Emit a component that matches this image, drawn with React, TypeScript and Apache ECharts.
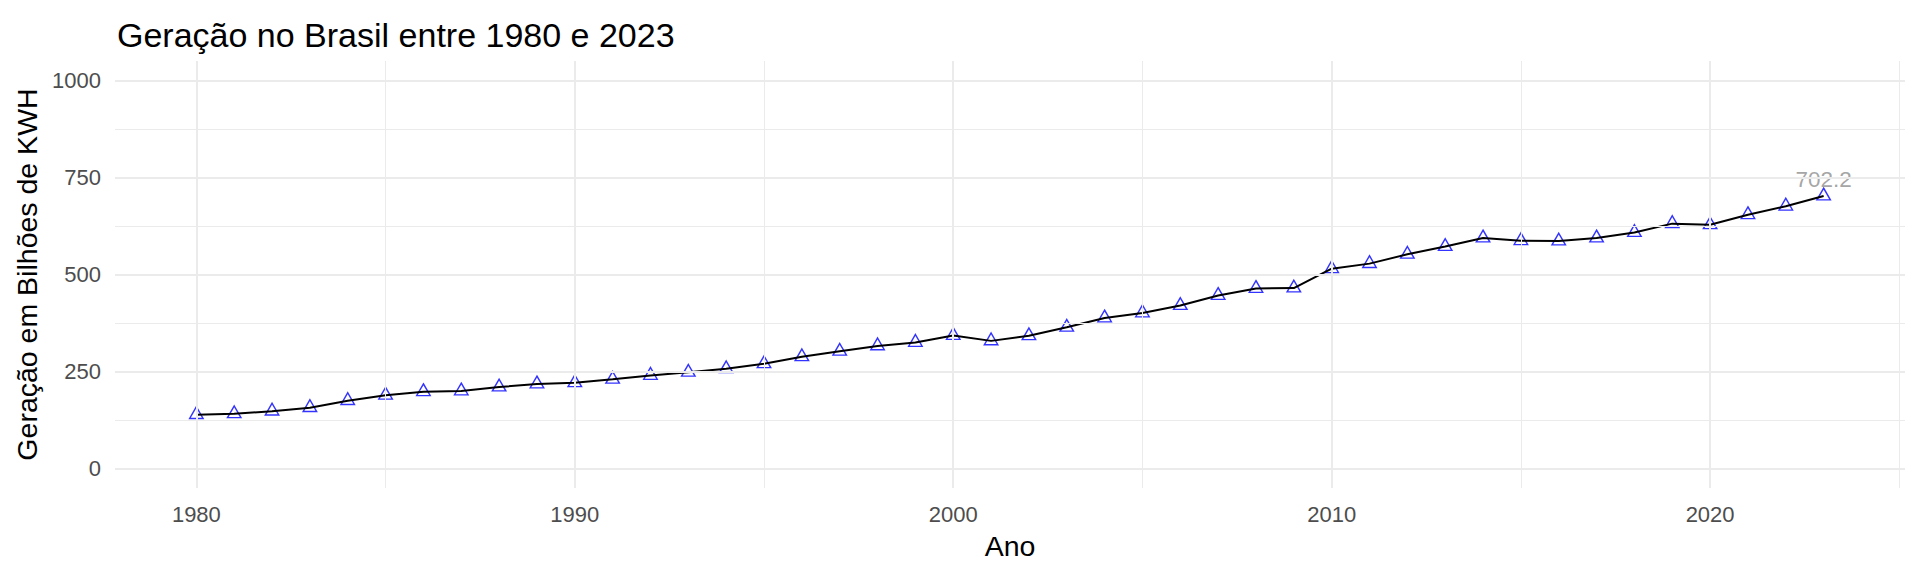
import React, { useEffect, useRef } from "react";
import * as echarts from "echarts";

const years: number[] = [
  1980, 1981, 1982, 1983, 1984, 1985, 1986, 1987, 1988, 1989,
  1990, 1991, 1992, 1993, 1994, 1995, 1996, 1997, 1998, 1999,
  2000, 2001, 2002, 2003, 2004, 2005, 2006, 2007, 2008, 2009,
  2010, 2011, 2012, 2013, 2014, 2015, 2016, 2017, 2018, 2019,
  2020, 2021, 2022, 2023,
];
const generation: number[] = [
  139, 141, 148, 157, 175, 189, 198, 200, 210, 218,
  221, 230, 240, 248, 257, 270, 288, 302, 316, 325,
  343, 329, 342, 364, 388, 401, 420, 446, 464, 465,
  515, 528, 552, 572, 594, 587, 586, 594, 608, 631,
  628, 654, 676, 702.2,
];
const xMajorTicks: number[] = [1980, 1990, 2000, 2010, 2020];
const xMinorTicks: number[] = [1985, 1995, 2005, 2015, 2025];
const yMajorTicks: number[] = [0, 250, 500, 750, 1000];
const yMinorTicks: number[] = [125, 375, 625, 875];

const titleText = "Geração no Brasil entre 1980 e 2023";
const xName = "Ano";
const yName = "Geração em Bilhões de KWH";

const FONT = "'Liberation Sans', Arial, sans-serif";

export default function App() {
  const ref = useRef<HTMLDivElement>(null);
  useEffect(() => {
    if (!ref.current) return;
    const chart = echarts.init(ref.current, null, { renderer: "svg" });
    const pts = years.map((y, i) => [y, generation[i]]);
    const last = pts.length - 1;
    const gridMarks: any[] = [];
    xMajorTicks.forEach((v) =>
      gridMarks.push({ xAxis: v, lineStyle: { color: "#EBEBEB", width: 2, type: "solid" } })
    );
    xMinorTicks.forEach((v) =>
      gridMarks.push({ xAxis: v, lineStyle: { color: "#EBEBEB", width: 1, type: "solid" } })
    );
    yMajorTicks.forEach((v) =>
      gridMarks.push({ yAxis: v, lineStyle: { color: "#EBEBEB", width: 2, type: "solid" } })
    );
    yMinorTicks.forEach((v) =>
      gridMarks.push({ yAxis: v, lineStyle: { color: "#EBEBEB", width: 1, type: "solid" } })
    );

    chart.setOption({
      animation: false,
      backgroundColor: "#FFFFFF",
      textStyle: { fontFamily: FONT },
      title: {
        text: titleText,
        left: 112,
        top: 13,
        textStyle: { fontFamily: FONT, fontSize: 34, fontWeight: "normal", color: "#000000" },
      },
      grid: { left: 115, right: 15, top: 61, bottom: 88, containLabel: false },
      xAxis: {
        type: "value",
        min: 1977.85,
        max: 2025.15,
        name: xName,
        nameLocation: "middle",
        nameGap: 43,
        nameTextStyle: { fontFamily: FONT, fontSize: 28.5, color: "#000000" },
        axisLine: { show: false },
        axisTick: { show: false },
        splitLine: { show: false },
        axisLabel: {
          customValues: xMajorTicks,
          fontFamily: FONT,
          fontSize: 22,
          color: "#4D4D4D",
          margin: 15,
          formatter: (v: number) => String(v),
        },
      },
      yAxis: {
        type: "value",
        min: -50,
        max: 1050,
        name: yName,
        nameLocation: "middle",
        nameGap: 73,
        nameTextStyle: { fontFamily: FONT, fontSize: 28.5, color: "#000000" },
        axisLine: { show: false },
        axisTick: { show: false },
        splitLine: { show: false },
        axisLabel: {
          customValues: yMajorTicks,
          fontFamily: FONT,
          fontSize: 22,
          color: "#4D4D4D",
          margin: 14,
          formatter: (v: number) => String(v),
        },
      },
      series: [
        {
          type: "line",
          data: [],
          z: 0,
          silent: true,
          markLine: {
            silent: true,
            symbol: ["none", "none"],
            label: { show: false },
            emphasis: { disabled: true },
            data: gridMarks,
          },
        },
        {
          type: "scatter",
          z: 2,
          symbol: "triangle",
          symbolSize: [13.5, 11.7],
          symbolOffset: [0, -2],
          itemStyle: { color: "rgba(0,0,0,0)", borderColor: "#0000FF", borderWidth: 1.4 },
          data: pts.map((p, i) =>
            i === last
              ? {
                  value: p,
                  label: {
                    show: true,
                    position: "top",
                    distance: 0,
                    offset: [0, 3],
                    formatter: (q: any) => String(q.value[1]),
                    fontFamily: FONT,
                    fontSize: 22.5,
                    color: "#8E8E8E",
                  },
                }
              : { value: p }
          ),
        },
        {
          type: "line",
          z: 3,
          symbol: "none",
          showSymbol: false,
          lineStyle: { color: "#000000", width: 2 },
          data: pts,
        },
      ],
    });
    return () => chart.dispose();
  }, []);
  return (
    <div
      ref={ref}
      style={{ position: "fixed", left: 0, top: 0, width: "1920px", height: "576px" }}
    />
  );
}
